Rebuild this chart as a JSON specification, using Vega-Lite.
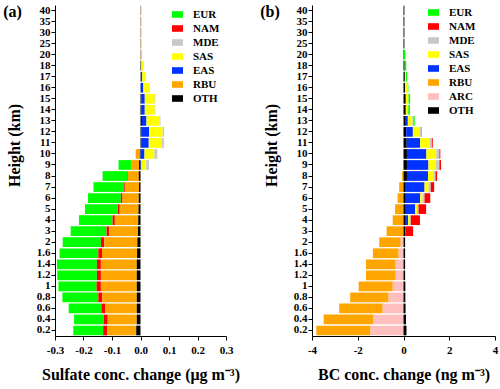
{
  "$schema": "https://vega.github.io/schema/vega-lite/v6.json",
  "padding": {"left": 3, "top": 4, "right": 5, "bottom": 3},
  "spacing": 20,
  "config": {
    "view": {"stroke": null},
    "font": "Liberation Serif",
    "axis": {
      "labelFont": "Liberation Serif", "labelFontWeight": "bold", "labelFontSize": 11, "labelColor": "black",
      "titleFont": "Liberation Serif", "titleFontWeight": "bold", "titleFontSize": 16, "titleColor": "black",
      "domainColor": "black", "tickColor": "black", "tickSize": 4, "grid": false
    },
    "legend": {
      "labelFont": "Liberation Serif", "labelFontWeight": "bold", "labelFontSize": 11, "labelColor": "black",
      "symbolType": "M-1,-0.6H1V0.6H-1Z", "symbolSize": 121, "symbolStrokeWidth": 0, "symbolOpacity": 1,
      "labelOffset": 10, "rowPadding": 2, "padding": 0
    },
    "title": {"font": "Liberation Serif", "fontWeight": "bold", "fontSize": 16, "color": "black"}
  },
  "datasets": {
    "sulfate": [
      {"h":"0.2","src":"EUR","v":-0.105,"k":7},{"h":"0.2","src":"NAM","v":-0.014,"k":6},{"h":"0.2","src":"RBU","v":-0.102,"k":2},{"h":"0.2","src":"OTH","v":-0.015,"k":1},
      {"h":"0.4","src":"EUR","v":-0.104,"k":7},{"h":"0.4","src":"NAM","v":-0.014,"k":6},{"h":"0.4","src":"RBU","v":-0.102,"k":2},{"h":"0.4","src":"OTH","v":-0.013,"k":1},
      {"h":"0.6","src":"EUR","v":-0.115,"k":7},{"h":"0.6","src":"NAM","v":-0.014,"k":6},{"h":"0.6","src":"RBU","v":-0.110,"k":2},{"h":"0.6","src":"OTH","v":-0.013,"k":1},
      {"h":"0.8","src":"EUR","v":-0.126,"k":7},{"h":"0.8","src":"NAM","v":-0.014,"k":6},{"h":"0.8","src":"RBU","v":-0.121,"k":2},{"h":"0.8","src":"OTH","v":-0.013,"k":1},
      {"h":"1","src":"EUR","v":-0.134,"k":7},{"h":"1","src":"NAM","v":-0.015,"k":6},{"h":"1","src":"RBU","v":-0.126,"k":2},{"h":"1","src":"OTH","v":-0.013,"k":1},
      {"h":"1.2","src":"EUR","v":-0.139,"k":7},{"h":"1.2","src":"NAM","v":-0.014,"k":6},{"h":"1.2","src":"RBU","v":-0.126,"k":2},{"h":"1.2","src":"OTH","v":-0.013,"k":1},
      {"h":"1.4","src":"EUR","v":-0.140,"k":7},{"h":"1.4","src":"NAM","v":-0.014,"k":6},{"h":"1.4","src":"RBU","v":-0.126,"k":2},{"h":"1.4","src":"OTH","v":-0.013,"k":1},
      {"h":"1.6","src":"EUR","v":-0.136,"k":7},{"h":"1.6","src":"NAM","v":-0.013,"k":6},{"h":"1.6","src":"RBU","v":-0.123,"k":2},{"h":"1.6","src":"OTH","v":-0.012,"k":1},
      {"h":"2","src":"EUR","v":-0.134,"k":7},{"h":"2","src":"NAM","v":-0.012,"k":6},{"h":"2","src":"RBU","v":-0.116,"k":2},{"h":"2","src":"OTH","v":-0.011,"k":1},
      {"h":"3","src":"EUR","v":-0.126,"k":7},{"h":"3","src":"NAM","v":-0.009,"k":6},{"h":"3","src":"RBU","v":-0.101,"k":2},{"h":"3","src":"OTH","v":-0.009,"k":1},
      {"h":"4","src":"EUR","v":-0.118,"k":7},{"h":"4","src":"NAM","v":-0.008,"k":6},{"h":"4","src":"RBU","v":-0.082,"k":2},{"h":"4","src":"OTH","v":-0.008,"k":1},
      {"h":"5","src":"EUR","v":-0.115,"k":7},{"h":"5","src":"NAM","v":-0.007,"k":6},{"h":"5","src":"RBU","v":-0.066,"k":2},{"h":"5","src":"OTH","v":-0.007,"k":1},
      {"h":"6","src":"EUR","v":-0.115,"k":7},{"h":"6","src":"NAM","v":-0.006,"k":6},{"h":"6","src":"RBU","v":-0.057,"k":2},{"h":"6","src":"OTH","v":-0.006,"k":1},
      {"h":"7","src":"EUR","v":-0.108,"k":7},{"h":"7","src":"NAM","v":-0.004,"k":6},{"h":"7","src":"RBU","v":-0.048,"k":2},{"h":"7","src":"OTH","v":-0.005,"k":1},
      {"h":"8","src":"EUR","v":-0.087,"k":7},{"h":"8","src":"NAM","v":-0.002,"k":6},{"h":"8","src":"RBU","v":-0.038,"k":2},{"h":"8","src":"OTH","v":-0.006,"k":1},
      {"h":"9","src":"EUR","v":-0.044,"k":7},{"h":"9","src":"RBU","v":-0.028,"k":2},{"h":"9","src":"OTH","v":-0.005,"k":1},{"h":"9","src":"EAS","v":0.003,"k":3},{"h":"9","src":"SAS","v":0.017,"k":4},{"h":"9","src":"MDE","v":0.010,"k":5},
      {"h":"10","src":"RBU","v":-0.015,"k":2},{"h":"10","src":"OTH","v":-0.002,"k":1},{"h":"10","src":"EAS","v":0.014,"k":3},{"h":"10","src":"SAS","v":0.035,"k":4},{"h":"10","src":"MDE","v":0.010,"k":5},
      {"h":"11","src":"OTH","v":0.002,"k":1},{"h":"11","src":"EAS","v":0.027,"k":3},{"h":"11","src":"SAS","v":0.046,"k":4},{"h":"11","src":"MDE","v":0.007,"k":5},
      {"h":"12","src":"OTH","v":0.004,"k":1},{"h":"12","src":"EAS","v":0.026,"k":3},{"h":"12","src":"SAS","v":0.048,"k":4},{"h":"12","src":"MDE","v":0.005,"k":5},
      {"h":"13","src":"OTH","v":0.005,"k":1},{"h":"13","src":"EAS","v":0.016,"k":3},{"h":"13","src":"SAS","v":0.046,"k":4},{"h":"13","src":"MDE","v":0.003,"k":5},
      {"h":"14","src":"OTH","v":0.002,"k":1},{"h":"14","src":"EAS","v":0.013,"k":3},{"h":"14","src":"SAS","v":0.035,"k":4},{"h":"14","src":"MDE","v":0.002,"k":5},
      {"h":"15","src":"OTH","v":0.002,"k":1},{"h":"15","src":"EAS","v":0.013,"k":3},{"h":"15","src":"SAS","v":0.035,"k":4},{"h":"15","src":"MDE","v":0.002,"k":5},
      {"h":"16","src":"OTH","v":0.001,"k":1},{"h":"16","src":"EAS","v":0.009,"k":3},{"h":"16","src":"SAS","v":0.023,"k":4},
      {"h":"17","src":"OTH","v":0.001,"k":1},{"h":"17","src":"EAS","v":0.005,"k":3},{"h":"17","src":"SAS","v":0.013,"k":4},
      {"h":"18","src":"OTH","v":0.002,"k":1},{"h":"18","src":"RBU","v":0.002,"k":2},{"h":"18","src":"SAS","v":0.008,"k":4},
      {"h":"20","src":"OTH","v":0.001,"k":1},{"h":"20","src":"RBU","v":0.003,"k":2},
      {"h":"25","src":"OTH","v":0.001,"k":1},{"h":"25","src":"RBU","v":0.002,"k":2},
      {"h":"30","src":"OTH","v":0.001,"k":1},{"h":"30","src":"RBU","v":0.002,"k":2},
      {"h":"35","src":"OTH","v":0.001,"k":1},{"h":"35","src":"RBU","v":0.002,"k":2},
      {"h":"40","src":"OTH","v":0.001,"k":1},{"h":"40","src":"RBU","v":0.002,"k":2}
    ],
    "bc": [
      {"h":"0.2","src":"RBU","v":-2.37,"k":3},{"h":"0.2","src":"ARC","v":-1.44,"k":2},{"h":"0.2","src":"OTH","v":0.13,"k":1},
      {"h":"0.4","src":"RBU","v":-2.18,"k":3},{"h":"0.4","src":"ARC","v":-1.31,"k":2},{"h":"0.4","src":"OTH","v":0.11,"k":1},
      {"h":"0.6","src":"RBU","v":-1.90,"k":3},{"h":"0.6","src":"ARC","v":-0.91,"k":2},{"h":"0.6","src":"OTH","v":0.09,"k":1},
      {"h":"0.8","src":"RBU","v":-1.68,"k":3},{"h":"0.8","src":"ARC","v":-0.65,"k":2},{"h":"0.8","src":"OTH","v":0.08,"k":1},
      {"h":"1","src":"RBU","v":-1.49,"k":3},{"h":"1","src":"ARC","v":-0.47,"k":2},{"h":"1","src":"OTH","v":0.08,"k":1},
      {"h":"1.2","src":"RBU","v":-1.30,"k":3},{"h":"1.2","src":"ARC","v":-0.34,"k":2},{"h":"1.2","src":"OTH","v":0.07,"k":1},
      {"h":"1.4","src":"RBU","v":-1.30,"k":3},{"h":"1.4","src":"ARC","v":-0.34,"k":2},{"h":"1.4","src":"OTH","v":0.07,"k":1},
      {"h":"1.6","src":"RBU","v":-1.13,"k":3},{"h":"1.6","src":"ARC","v":-0.21,"k":2},{"h":"1.6","src":"OTH","v":0.07,"k":1},
      {"h":"2","src":"RBU","v":-0.94,"k":3},{"h":"2","src":"ARC","v":-0.12,"k":2},{"h":"2","src":"OTH","v":0.07,"k":1},
      {"h":"3","src":"RBU","v":-0.74,"k":3},{"h":"3","src":"OTH","v":0.08,"k":1},{"h":"3","src":"NAM","v":0.34,"k":7},
      {"h":"4","src":"RBU","v":-0.47,"k":3},{"h":"4","src":"OTH","v":0.10,"k":1},{"h":"4","src":"EAS","v":0.10,"k":4},{"h":"4","src":"SAS","v":0.07,"k":5},{"h":"4","src":"MDE","v":0.05,"k":6},{"h":"4","src":"NAM","v":0.40,"k":7},
      {"h":"5","src":"RBU","v":-0.37,"k":3},{"h":"5","src":"OTH","v":0.10,"k":1},{"h":"5","src":"EAS","v":0.41,"k":4},{"h":"5","src":"SAS","v":0.08,"k":5},{"h":"5","src":"MDE","v":0.07,"k":6},{"h":"5","src":"NAM","v":0.33,"k":7},
      {"h":"6","src":"RBU","v":-0.26,"k":3},{"h":"6","src":"OTH","v":0.10,"k":1},{"h":"6","src":"EAS","v":0.63,"k":4},{"h":"6","src":"SAS","v":0.10,"k":5},{"h":"6","src":"MDE","v":0.09,"k":6},{"h":"6","src":"NAM","v":0.25,"k":7},
      {"h":"7","src":"RBU","v":-0.19,"k":3},{"h":"7","src":"OTH","v":0.10,"k":1},{"h":"7","src":"EAS","v":0.82,"k":4},{"h":"7","src":"SAS","v":0.18,"k":5},{"h":"7","src":"MDE","v":0.09,"k":6},{"h":"7","src":"NAM","v":0.15,"k":7},
      {"h":"8","src":"RBU","v":-0.06,"k":3},{"h":"8","src":"OTH","v":0.15,"k":1},{"h":"8","src":"EAS","v":0.92,"k":4},{"h":"8","src":"SAS","v":0.24,"k":5},{"h":"8","src":"MDE","v":0.09,"k":6},{"h":"8","src":"NAM","v":0.07,"k":7},
      {"h":"9","src":"OTH","v":0.15,"k":1},{"h":"9","src":"EAS","v":0.94,"k":4},{"h":"9","src":"SAS","v":0.32,"k":5},{"h":"9","src":"MDE","v":0.16,"k":6},{"h":"9","src":"NAM","v":0.07,"k":7},
      {"h":"10","src":"OTH","v":0.15,"k":1},{"h":"10","src":"EAS","v":0.85,"k":4},{"h":"10","src":"SAS","v":0.43,"k":5},{"h":"10","src":"MDE","v":0.14,"k":6},{"h":"10","src":"NAM","v":0.04,"k":7},
      {"h":"11","src":"OTH","v":0.14,"k":1},{"h":"11","src":"EAS","v":0.59,"k":4},{"h":"11","src":"SAS","v":0.41,"k":5},{"h":"11","src":"MDE","v":0.10,"k":6},{"h":"11","src":"NAM","v":0.04,"k":7},
      {"h":"12","src":"OTH","v":0.12,"k":1},{"h":"12","src":"EAS","v":0.29,"k":4},{"h":"12","src":"SAS","v":0.29,"k":5},{"h":"12","src":"MDE","v":0.07,"k":6},{"h":"12","src":"EUR","v":0.03,"k":8},
      {"h":"13","src":"OTH","v":0.10,"k":1},{"h":"13","src":"EAS","v":0.09,"k":4},{"h":"13","src":"SAS","v":0.20,"k":5},{"h":"13","src":"MDE","v":0.04,"k":6},{"h":"13","src":"EUR","v":0.06,"k":8},
      {"h":"14","src":"OTH","v":0.08,"k":1},{"h":"14","src":"EAS","v":0.03,"k":4},{"h":"14","src":"SAS","v":0.10,"k":5},{"h":"14","src":"EUR","v":0.07,"k":8},
      {"h":"15","src":"OTH","v":0.08,"k":1},{"h":"15","src":"EAS","v":0.03,"k":4},{"h":"15","src":"SAS","v":0.11,"k":5},{"h":"15","src":"EUR","v":0.07,"k":8},
      {"h":"16","src":"OTH","v":0.07,"k":1},{"h":"16","src":"SAS","v":0.12,"k":5},{"h":"16","src":"EUR","v":0.02,"k":8},
      {"h":"17","src":"OTH","v":0.06,"k":1},{"h":"17","src":"SAS","v":0.05,"k":5},{"h":"17","src":"EUR","v":0.05,"k":8},
      {"h":"18","src":"OTH","v":0.05,"k":1},{"h":"18","src":"EUR","v":0.07,"k":8},
      {"h":"20","src":"OTH","v":0.02,"k":1},{"h":"20","src":"EUR","v":0.06,"k":8},
      {"h":"25","src":"OTH","v":0.04,"k":1},
      {"h":"30","src":"OTH","v":0.04,"k":1},
      {"h":"35","src":"OTH","v":0.04,"k":1},
      {"h":"40","src":"OTH","v":0.04,"k":1}
    ]
  },
  "resolve": {
    "scale": {"x": "independent", "y": "independent", "color": "independent"},
    "legend": {"color": "independent"}
  },
  "hconcat": [
    {
      "data": {"name": "sulfate"},
      "width": 171,
      "height": 331,
      "title": {"text": "(a)", "anchor": "start", "frame": "bounds", "orient": "top", "offset": -16, "dx": -3},
      "mark": {"type": "bar"},
      "encoding": {
        "y": {
          "field": "h", "type": "ordinal",
          "sort": ["40","35","30","25","20","18","17","16","15","14","13","12","11","10","9","8","7","6","5","4","3","2","1.6","1.4","1.2","1","0.8","0.6","0.4","0.2"],
          "scale": {"paddingInner": 0.12, "paddingOuter": 0.06},
          "axis": {"title": "Height (km)", "labelPadding": 1, "titlePadding": 14, "titleY": 140, "labelAngle": 0}
        },
        "x": {
          "field": "v", "type": "quantitative", "stack": "zero",
          "scale": {"domain": [-0.3, 0.3], "nice": false, "zero": false},
          "axis": {"title": "Sulfate conc. change (μg m⁻³)", "values": [-0.3, -0.2, -0.1, 0, 0.1, 0.2, 0.3], "labelExpr": "replace(format(datum.value, '.1f'), '−', '-')", "labelPadding": 4, "titlePadding": 11, "labelFlush": false}
        },
        "color": {
          "field": "src", "type": "nominal",
          "scale": {"domain": ["EUR","NAM","MDE","SAS","EAS","RBU","OTH"], "range": ["#00ff00","#ff0000","#c8c8c8","#ffff00","#0033ff","#ffa500","#000000"]},
          "legend": {"title": null, "orient": "none", "legendX": 117, "legendY": 4}
        },
        "order": {"field": "k", "type": "quantitative", "sort": "ascending"}
      }
    },
    {
      "data": {"name": "bc"},
      "width": 183,
      "height": 331,
      "title": {"text": "(b)", "anchor": "start", "frame": "bounds", "orient": "top", "offset": -16, "dx": -3},
      "mark": {"type": "bar"},
      "encoding": {
        "y": {
          "field": "h", "type": "ordinal",
          "sort": ["40","35","30","25","20","18","17","16","15","14","13","12","11","10","9","8","7","6","5","4","3","2","1.6","1.4","1.2","1","0.8","0.6","0.4","0.2"],
          "scale": {"paddingInner": 0.12, "paddingOuter": 0.06},
          "axis": {"title": "Height (km)", "labelPadding": 1, "titlePadding": 14, "titleY": 140, "labelAngle": 0}
        },
        "x": {
          "field": "v", "type": "quantitative", "stack": "zero",
          "scale": {"domain": [-4, 4], "nice": false, "zero": false},
          "axis": {"title": "BC conc. change (ng m⁻³)", "values": [-4, -2, 0, 2, 4], "labelExpr": "replace(format(datum.value, 'd'), '−', '-')", "labelPadding": 4, "titlePadding": 11, "labelFlush": false}
        },
        "color": {
          "field": "src", "type": "nominal",
          "scale": {"domain": ["EUR","NAM","MDE","SAS","EAS","RBU","ARC","OTH"], "range": ["#00ff00","#ff0000","#c8c8c8","#ffff00","#0033ff","#ffa500","#ffbfbf","#000000"]},
          "legend": {"title": null, "orient": "none", "legendX": 116, "legendY": 2}
        },
        "order": {"field": "k", "type": "quantitative", "sort": "ascending"}
      }
    }
  ]
}
